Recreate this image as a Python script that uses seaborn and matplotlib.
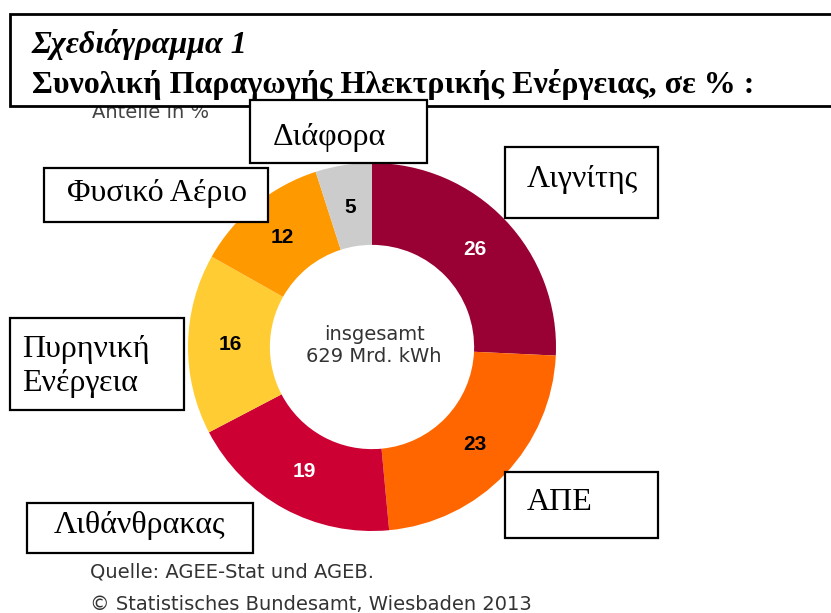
import matplotlib
matplotlib.use('Agg')
import matplotlib.pyplot as plt
from matplotlib.patches import Rectangle
import seaborn as sns

# data, clockwise from 12 o'clock
categories = ['Λιγνίτης', 'ΑΠΕ', 'Λιθάνθρακας', 'Πυρηνική Ενέργεια', 'Φυσικό Αέριο', 'Διάφορα']
shares = [26, 23, 19, 16, 12, 5]
colors = ['#990033', '#ff6600', '#cc0033', '#ffcc33', '#ff9900', '#cccccc']
label_colors = ['white', 'black', 'white', 'black', 'black', 'black']

title_line1 = 'Σχεδιάγραμμα 1'
title_line2 = 'Συνολική Παραγωγής Ηλεκτρικής Ενέργειας, σε % :'
center_text = 'insgesamt\n629 Mrd. kWh'
unit_text = 'Anteile in %'
source_lines = ['Quelle: AGEE-Stat und AGEB.', '© Statistisches Bundesamt, Wiesbaden 2013']

sns.set_theme(style='white')
plt.rcParams['font.family'] = ['DejaVu Sans']
plt.rcParams['text.color'] = 'black'

W, H = 831, 613
fig = plt.figure(figsize=(W / 100, H / 100), dpi=100)
ax = fig.add_axes([0, 0, 1, 1])

# donut
cx, cy, r = 372, H - 347, 184
wedges, texts = ax.pie(shares, labels=[str(v) for v in shares], colors=colors,
                       startangle=90, counterclock=False, center=(cx, cy), radius=r,
                       labeldistance=0.77, frame=True,
                       wedgeprops=dict(width=r * 0.445, linewidth=0))
ax.set_xlim(0, W)
ax.set_ylim(0, H)
ax.axis('off')
for t, c in zip(texts, label_colors):
    t.set_ha('center')
    t.set_va('center')
    t.set_color(c)
    t.set_fontsize(15)
    t.set_fontweight('bold')
    t.set_family('Liberation Sans')

ax.text(cx + 2, cy + 1, center_text, ha='center', va='center', fontsize=14,
        color='#333333', linespacing=1.2)

# partly hidden under the title box, as in the original
ax.text(92, H - 113, unit_text, ha='left', va='center', fontsize=14, color='#444444', zorder=1)

serif = 'Liberation Serif'

def box(x0, y0, x1, y1, lw=1.6):
    ax.add_patch(Rectangle((x0, H - y1), x1 - x0, y1 - y0, facecolor='white',
                           edgecolor='black', linewidth=lw, zorder=5))

def label(x, y, s, ha='center', **kw):
    ax.text(x, H - y, s, ha=ha, va='center', fontsize=23, family=serif, zorder=6, **kw)

# title box
box(10, 14, 840, 106, lw=2)
label(32, 44, title_line1, ha='left', style='italic', fontweight='bold')
label(32, 84, title_line2, ha='left', fontweight='bold')

# category boxes
box(250, 100, 427, 163)
label(329, 138, categories[5])

box(505, 147, 658, 218)
label(582, 180, categories[0])

box(44, 168, 268, 222)
label(157, 194, categories[4])

box(10, 318, 184, 410)
label(22, 350, 'Πυρηνική', ha='left')
label(22, 383, 'Ενέργεια', ha='left')

box(505, 472, 658, 538)
label(527, 503, categories[1], ha='left')

box(27, 503, 253, 553)
label(140, 526, categories[2])

# source
ax.text(90, H - 572, source_lines[0], ha='left', va='center', fontsize=14, color='#333333')
ax.text(90, H - 604, source_lines[1], ha='left', va='center', fontsize=14, color='#333333')

fig.savefig('out.png', dpi=100, facecolor='white')
